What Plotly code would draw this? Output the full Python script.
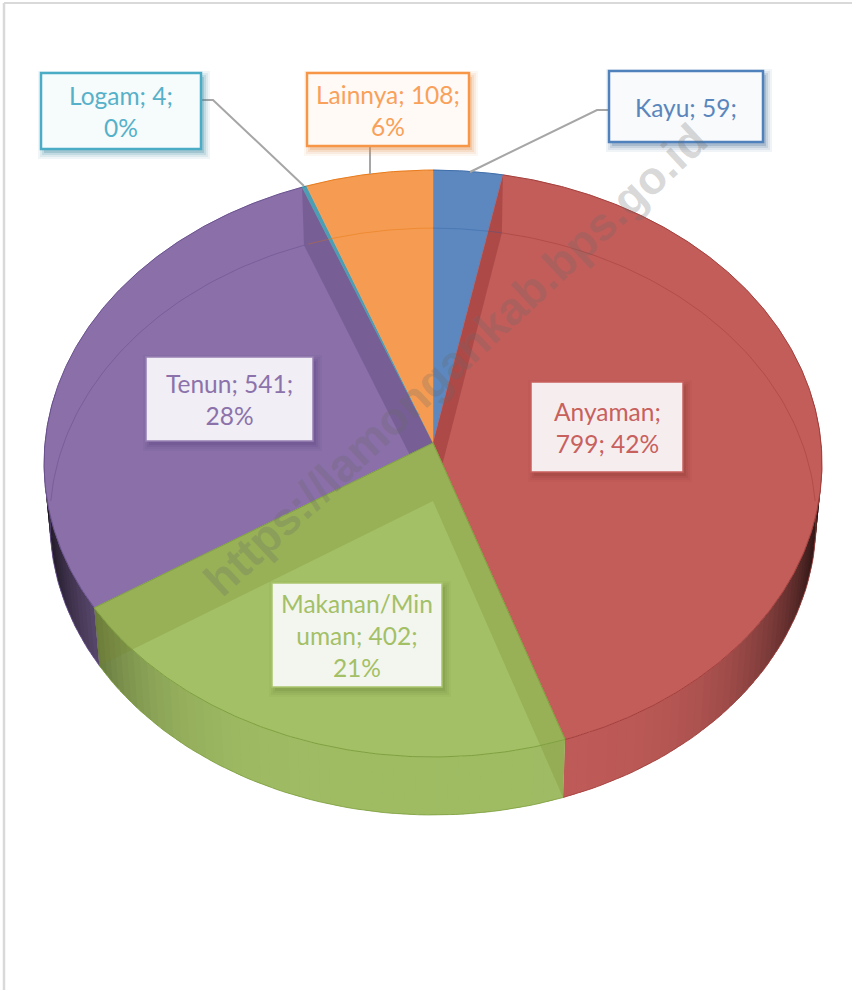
import numpy as np
import plotly.graph_objects as go

categories = ["Kayu", "Anyaman", "Makanan/Minuman", "Tenun", "Logam", "Lainnya"]
values = [59, 799, 402, 541, 4, 108]
face_colors = ["#5c87bf", "#c35d5a", "#a3c066", "#8a6fa8", "#4a9fb5", "#f59c52"]
rim_colors = ["#3f6ea9", "#a33f3c", "#7fa040", "#6a5190", "#2f8aa3", "#e87b1c"]
label_lines = ["Kayu; 59;", "Anyaman;<br>799; 42%", "Makanan/Min<br>uman; 402;<br>21%",
               "Tenun; 541;<br>28%", "Logam; 4;<br>0%", "Lainnya; 108;<br>6%"]
text_colors = ["#5a86bd", "#c8605e", "#a3c066", "#8c72ab", "#55b1c9", "#f9a05a"]
box_fill = ["#f8fafc", "#f6eeee", "#f3f6ef", "#f1eef5", "#f6fbfc", "#fffaf6"]
box_line = ["#4f81bd", "#c9605e", "#a9c56e", "#9880b4", "#4bacc6", "#f79646"]
shadow_colors = ["#3c6494", "#8f3a38", "#6f8a3a", "#5c4480", "#2f8199", "#e08a45"]
box_w = [2.5, 1.5, 1.5, 1.5, 2.5, 2.5]
boxes = [(609, 71, 763, 142), (531, 382, 683, 472), (272, 583, 442, 687),
         (146, 357, 313, 441), (41, 73, 201, 149), (307, 73, 469, 146)]
leaders = [([608, 597, 470], [110, 110, 172]), ([201, 213, 304], [100, 100, 186]), ([370, 370], [146, 174])]
watermark = "https://lamongankab.bps.go.id"

CX, CY, A, B, K, DEPTH, SHRINK = 433, 443, 388, 292, 0.07, 58, 0.985


def project(deg, lower=False):
    t = np.radians(np.asarray(deg, dtype=float))
    d = 1 + K * np.cos(t)
    x = A * np.sin(t) / d
    y = -B * np.cos(t) / d
    if lower:
        return CX + SHRINK * x, CY + y + DEPTH
    return CX + x, CY + y


def rgb(h):
    return tuple(int(h[i:i + 2], 16) for i in (1, 3, 5))


total = sum(values)
edges = np.cumsum([0] + values) / total * 360
fig = go.Figure()


def poly(x, y, fill, line=None, width=0.0):
    fig.add_trace(go.Scatter(x=list(x), y=list(y), mode="lines", fill="toself", fillcolor=fill,
                             line=dict(color=line or fill, width=width), hoverinfo="skip", showlegend=False))


def stroke(x, y, color, width=1.0):
    fig.add_trace(go.Scatter(x=list(x), y=list(y), mode="lines", line=dict(color=color, width=width),
                             hoverinfo="skip", showlegend=False))


def face(i):
    th = np.linspace(edges[i], edges[i + 1], max(int(edges[i + 1] - edges[i]) * 2, 4))
    x, y = project(th)
    poly(np.r_[CX, x, CX], np.r_[CY, y, CY], face_colors[i], face_colors[i], 0.5)


def wall(ang, color):
    xt, yt = project(ang)
    xb, yb = project(ang, True)
    poly([CX, xt, xb, CX, CX], [CY, yt, yb, CY + DEPTH, CY], color)


# side band, front half only: overlapping strips so that no seams show
for i in range(len(values)):
    a0, a1 = max(edges[i], 80), min(edges[i + 1], 280)
    if a1 <= a0:
        continue
    steps = np.arange(a0, a1, 1.5).tolist() + [a1]
    r, g, b = rgb(face_colors[i])
    for s0, s1 in zip(steps[:-1], steps[1:]):
        m = abs(np.sin(np.radians((s0 + s1) / 2)))
        f = 0.98 - 0.82 * m ** 5
        col = f"rgb({int(r * f)},{int(g * f)},{int(b * f)})"
        th = np.array([s0, min(s1 + 1.0, a1)])
        xt, yt = project(th)
        xb, yb = project(th, True)
        poly(np.r_[xt, xb[::-1], xt[0]], np.r_[yt, yb[::-1], yt[0]], col)
    xb, yb = project(np.linspace(a0, a1, 60), True)
    stroke(xb, yb, rim_colors[i], 0.8)

# top faces apart from the green one
for i in (0, 1, 3, 4, 5):
    face(i)

# back rim of the lower disc, seen through the translucent top
for i in (0, 1, 3, 5):
    r, g, b = rgb(rim_colors[i])
    for lo, hi in ((0, 90), (270, 360)):
        a0, a1 = max(edges[i], lo), min(edges[i + 1], hi)
        if a1 > a0:
            xb, yb = project(np.linspace(a0, a1, 60), True)
            stroke(xb, yb, f"rgba({r},{g},{b},0.55)", 1.0)

# cut walls of the red and purple slices, behind the green one
wall(edges[1], "rgba(132,39,39,0.35)")
wall(edges[4], "rgba(75,61,108,0.30)")
face(2)

# cut walls of the green slice as one outline
xa, ya = project(edges[2])
xc, yc = project(edges[2], True)
xd, yd = project(edges[3], True)
xe, ye = project(edges[3])
poly([CX, xa, xc, CX, xd, xe, CX], [CY, ya, yc, CY + DEPTH, yd, ye, CY], "rgba(120,130,40,0.25)")

# top rims
for i in range(len(values)):
    th = np.linspace(edges[i], edges[i + 1], max(int(edges[i + 1] - edges[i]) * 2, 4))
    x, y = project(th)
    stroke(x, y, rim_colors[i], 1.0)
for a in (edges[2], edges[3]):
    xa, ya = project(a)
    stroke([CX, xa], [CY, ya], rim_colors[2], 1.0)

shapes = [
    dict(type="line", x0=4, x1=4, y0=3, y1=990, line=dict(color="#d9d9d9", width=2.5), layer="below"),
    dict(type="line", x0=4, x1=852, y0=3, y1=3, line=dict(color="#d9d9d9", width=2), layer="below"),
]
for lx, ly in leaders:
    fig.add_trace(go.Scatter(x=lx, y=ly, mode="lines", line=dict(color="#a6a6a6", width=2),
                             hoverinfo="skip", showlegend=False))

annotations = []
for i, (x0, y0, x1, y1) in enumerate(boxes):
    r, g, b = rgb(shadow_colors[i])
    for grow, alpha in ((6, 0.07), (4, 0.10), (2, 0.15), (0, 0.22)):
        shapes.append(dict(type="rect", x0=x0 + 3 - grow, x1=x1 + 3 + grow, y0=y0 + 4 - grow, y1=y1 + 4 + grow,
                           line=dict(width=0), fillcolor=f"rgba({r},{g},{b},{alpha})", layer="above"))
    shapes.append(dict(type="rect", x0=x0, x1=x1, y0=y0, y1=y1, layer="above", fillcolor=box_fill[i],
                       line=dict(color=box_line[i], width=box_w[i])))
    annotations.append(dict(x=(x0 + x1) / 2, y=(y0 + y1) / 2 + 0.5, xref="x", yref="y", text=label_lines[i],
                            showarrow=False, align="center", xanchor="center", yanchor="middle",
                            font=dict(family="Lato", size=24.5, color=text_colors[i])))

annotations.append(dict(x=455, y=360, xref="x", yref="y", text="<b>" + watermark + "</b>", textangle=-43,
                        showarrow=False, xanchor="center", yanchor="middle",
                        font=dict(family="Liberation Sans", size=46, color="rgba(105,105,105,0.26)")))

fig.update_layout(
    width=855, height=993, margin=dict(l=0, r=0, t=0, b=0), paper_bgcolor="white", plot_bgcolor="white",
    xaxis=dict(range=[0, 855], visible=False, fixedrange=True),
    yaxis=dict(range=[993, 0], visible=False, fixedrange=True),
    shapes=shapes, annotations=annotations, showlegend=False,
)
fig.write_html("out.html", post_script="document.body.style.margin='0';document.body.style.overflow='hidden';",
               config=dict(displayModeBar=False))
